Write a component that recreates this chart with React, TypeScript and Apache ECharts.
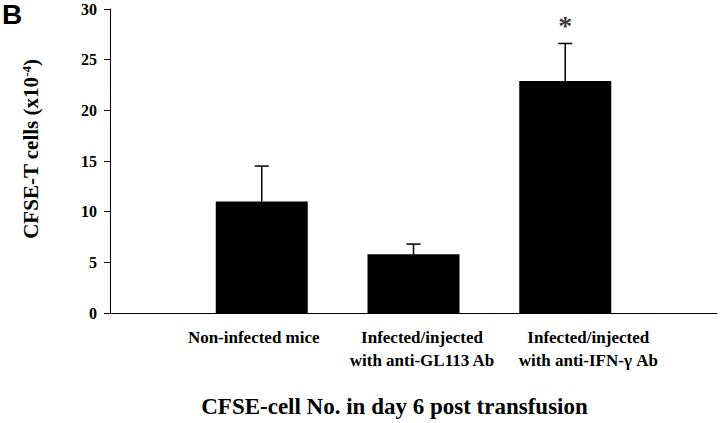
import React, { useEffect, useRef } from "react";
import * as echarts from "echarts";

const categories = ["Non-infected mice", "Infected/injected\nwith anti-GL113 Ab", "Infected/injected\nwith anti-IFN-γ Ab"];
const means = [11.0, 5.8, 22.9];
const sems = [3.5, 1.0, 3.7];
const significant = [false, false, true];
const yTicks = [0, 5, 10, 15, 20, 25, 30];

const serif = "'Liberation Serif', 'Times New Roman', serif";

export default function App() {
  const ref = useRef<HTMLDivElement>(null);
  useEffect(() => {
    document.body.style.margin = "0";
    if (!ref.current) return;
    const chart = echarts.init(ref.current, null, { renderer: "svg" });
    const cats = ["", ...categories, ""];
    const barData: any[] = ["-", ...means, "-"];
    const errData = means.map((m, i) => [i + 1, m, m + sems[i]]);
    const starData: any[] = ["-", ...means.map((m, i) => (significant[i] ? m + sems[i] : "-")), "-"];
    const richKeys = ["", "a", "b", "c", ""];
    const base = { fontFamily: serif, fontWeight: "bold", fontSize: 17, lineHeight: 23, color: "#000" };
    chart.setOption({
      animation: false,
      backgroundColor: "#fff",
      grid: { left: 110, right: 3, top: 9, bottom: 110 },
      graphic: [
        {
          type: "text",
          left: 2,
          top: 0,
          style: { text: "B", fontFamily: "'Liberation Sans', Arial, sans-serif", fontWeight: "bold", fontSize: 28, fill: "#000" },
        },
      ],
      xAxis: {
        type: "category",
        data: cats,
        boundaryGap: false,
        axisLine: { lineStyle: { color: "#000", width: 1 } },
        axisTick: { show: false },
        axisLabel: {
          interval: 0,
          margin: 13,
          ...base,
          formatter: (v: string, i: number) => {
            if (!v) return "";
            const k = richKeys[i];
            return v.split("\n").map((l) => `{${k}|${l}}`).join("\n");
          },
          rich: {
            a: { ...base, padding: [0, 16, 0, 0] },
            b: { ...base, padding: [0, 0, 0, 17] },
            c: { ...base, padding: [0, 0, 0, 46] },
          },
        },
        name: "CFSE-cell No. in day 6 post transfusion",
        nameLocation: "middle",
        nameGap: 82,
        nameTextStyle: { fontFamily: serif, fontWeight: "bold", fontSize: 23, color: "#000", padding: [0, 38, 0, 0] },
      },
      yAxis: {
        type: "value",
        min: yTicks[0],
        max: yTicks[yTicks.length - 1],
        interval: 5,
        splitLine: { show: false },
        axisLine: { show: true, lineStyle: { color: "#000", width: 1 } },
        axisTick: { show: true, length: 6, lineStyle: { color: "#000" } },
        axisLabel: { fontFamily: serif, fontWeight: "bold", fontSize: 16, color: "#000", margin: 13 },
        name: "CFSE-T cells (x10{sup|-4})",
        nameLocation: "middle",
        nameGap: 69,
        nameRotate: 90,
        nameTextStyle: {
          fontFamily: serif,
          fontWeight: "bold",
          fontSize: 21,
          color: "#000",
          padding: [0, 0, 0, 24],
          rich: {
            sup: { fontFamily: serif, fontWeight: "bold", fontSize: 13, verticalAlign: "top", padding: [0, 0, 8, 0], color: "#000" },
          },
        },
      },
      series: [
        {
          type: "bar",
          data: barData,
          barWidth: 92,
          itemStyle: { color: "#000" },
        },
        {
          type: "custom",
          data: errData,
          z: 3,
          renderItem: (params: any, api: any) => {
            const x = api.value(0);
            const p0 = api.coord([x, api.value(1)]);
            const p1 = api.coord([x, api.value(2)]);
            const s = { stroke: "#000", lineWidth: 1.5 };
            return {
              type: "group",
              children: [
                { type: "line", shape: { x1: p0[0], y1: p0[1], x2: p1[0], y2: p1[1] }, style: s },
                { type: "line", shape: { x1: p1[0] - 7, y1: p1[1], x2: p1[0] + 7, y2: p1[1] }, style: s },
              ],
            };
          },
        },
        {
          type: "scatter",
          data: starData,
          symbolSize: 0,
          label: {
            show: true,
            position: "top",
            distance: 4,
            formatter: "*",
            fontFamily: serif,
            fontWeight: "bold",
            fontSize: 28,
            color: "#000",
          },
        },
      ],
    });
    return () => chart.dispose();
  }, []);
  return <div ref={ref} style={{ width: 720, height: 423 }} />;
}
